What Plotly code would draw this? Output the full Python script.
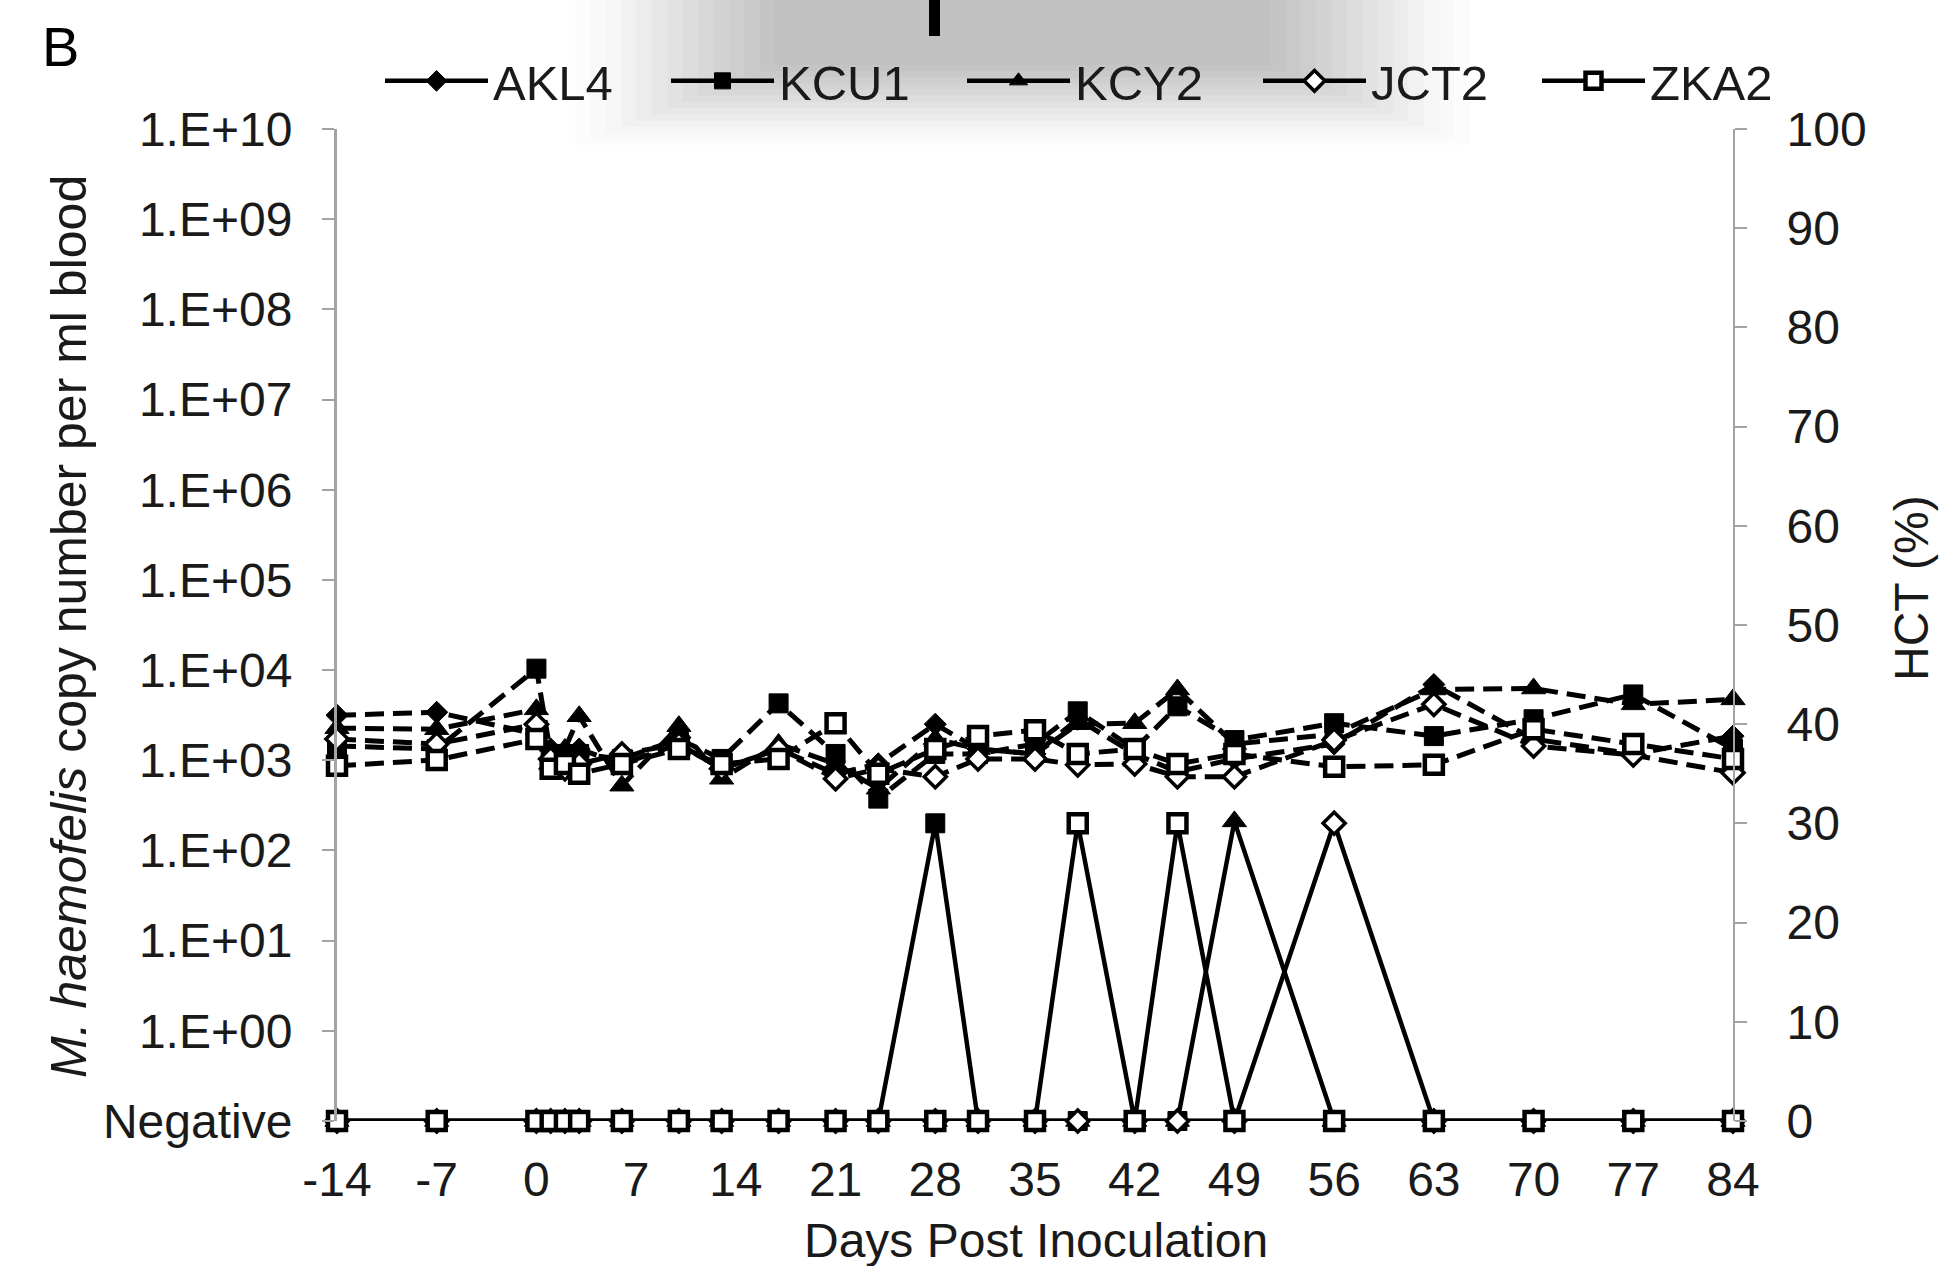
import plotly.graph_objects as go

# ---------------- data ----------------
days = [-14, -7, 0, 1, 2, 3, 6, 10, 13, 17, 21, 24, 28, 31, 35, 38, 42, 45, 49, 56, 63, 70, 77, 84]
x_ticks = [-14, -7, 0, 7, 14, 21, 28, 35, 42, 49, 56, 63, 70, 77, 84]
x_ticktext = ["-14", "-7", "0", "7", "14", "21", "28", "35", "42", "49", "56", "63", "70", "77", "84"]

animals = ["AKL4", "KCU1", "KCY2", "JCT2", "ZKA2"]

# M. haemofelis copy number per ml blood (0 = Negative)
copies_AKL4 = [0, 0, 0, 0, 0, 0, 0, 0, 0, 0, 0, 0, 0, 0, 0, 0, 0, 0, 0, 0, 0, 0, 0, 0]
copies_KCU1 = [0, 0, 0, 0, 0, 0, 0, 0, 0, 0, 0, 0, 200, 0, 0, 0, 0, 0, 0, 0, 0, 0, 0, 0]
copies_KCY2 = [0, 0, 0, 0, 0, 0, 0, 0, 0, 0, 0, 0, 0, 0, 0, 0, 0, 0, 210, 0, 0, 0, 0, 0]
copies_JCT2 = [0, 0, 0, 0, 0, 0, 0, 0, 0, 0, 0, 0, 0, 0, 0, 0, 0, 0, 0, 200, 0, 0, 0, 0]
copies_ZKA2 = [0, 0, 0, 0, 0, 0, 0, 0, 0, 0, 0, 0, 0, 0, 0, 200, 0, 200, 0, 0, 0, 0, 0, 0]

# HCT (%)
hct_AKL4 = [40.9, 41.2, 39.0, 37.5, 37.0, 37.5, 36.0, 38.0, 35.5, 37.5, 35.0, 36.0, 40.0, 37.5, 37.0, 40.5, 37.0, 35.2, 36.5, 38.0, 44.0, 38.5, 37.0, 38.8]
hct_KCU1 = [37.8, 37.5, 45.6, 37.0, 36.5, 37.0, 36.5, 38.5, 36.5, 42.1, 37.0, 32.5, 37.0, 37.0, 38.0, 41.3, 37.5, 41.8, 38.4, 40.1, 38.8, 40.5, 43.0, 37.5]
hct_KCY2 = [39.6, 39.5, 41.5, 36.0, 37.5, 40.8, 33.8, 39.8, 34.5, 38.0, 36.0, 33.5, 38.5, 37.5, 37.0, 40.0, 40.1, 43.5, 38.0, 39.0, 43.5, 43.6, 42.0, 42.5]
hct_JCT2 = [38.5, 38.0, 40.0, 36.5, 35.5, 36.0, 37.0, 38.0, 35.5, 37.5, 34.5, 35.5, 34.7, 36.5, 36.5, 35.9, 36.0, 34.7, 34.7, 38.4, 42.0, 37.8, 36.9, 35.1]
hct_ZKA2 = [35.8, 36.4, 38.5, 35.5, 36.0, 35.0, 36.0, 37.5, 36.0, 36.5, 40.1, 35.0, 37.5, 38.8, 39.4, 37.0, 37.5, 36.0, 37.0, 35.7, 35.9, 39.5, 38.0, 36.5]

left_tickvals = [0.1, 1, 10, 100, 1e3, 1e4, 1e5, 1e6, 1e7, 1e8, 1e9, 1e10]
left_ticktext = ["Negative", "1.E+00", "1.E+01", "1.E+02", "1.E+03", "1.E+04",
                 "1.E+05", "1.E+06", "1.E+07", "1.E+08", "1.E+09", "1.E+10"]
right_tickvals = [0, 10, 20, 30, 40, 50, 60, 70, 80, 90, 100]

NEG_LEVEL = 0.1  # position of "Negative" on the log axis

copies = [copies_AKL4, copies_KCU1, copies_KCY2, copies_JCT2, copies_ZKA2]
hcts = [hct_AKL4, hct_KCU1, hct_KCY2, hct_JCT2, hct_ZKA2]

# ---------------- styles ----------------
FONT = "Liberation Sans, Arial, sans-serif"
TXT = "#1a1a1a"
AX = "#a3a3a3"
markers = [
    dict(symbol="diamond", size=17, color="black", line=dict(color="black", width=1)),
    dict(symbol="square", size=19, color="black", line=dict(color="black", width=1)),
    dict(symbol="triangle-up", size=21, color="black", line=dict(color="black", width=1)),
    dict(symbol="diamond", size=17, color="white", line=dict(color="black", width=3.5)),
    dict(symbol="square", size=18, color="white", line=dict(color="black", width=4.5)),
]

L, R, T, B = 337, 225, 129, 145
W, H = 1958, 1266
pw, ph = W - L - R, H - T - B

def px(xf):
    return (xf - L) / pw

def py(yf):
    return (H - B - yf) / ph

legend_ids = ["legend", "legend2", "legend3", "legend4", "legend5"]
legend_x = [380, 666, 962, 1258, 1537]

fig = go.Figure()

# copy numbers (solid, left log axis) -- these carry the legend
for name, c, mk, lid in zip(animals, copies, markers, legend_ids):
    yv = [v if v > 0 else NEG_LEVEL for v in c]
    fig.add_trace(go.Scatter(
        x=days, y=yv, yaxis="y", mode="lines+markers", name=name,
        showlegend=True, legend=lid, cliponaxis=False,
        line=dict(color="black", width=4.5),
        marker=mk,
    ))

# HCT (dashed, right axis)
for name, h, mk in zip(animals, hcts, markers):
    fig.add_trace(go.Scatter(
        x=days, y=h, yaxis="y2", mode="lines+markers", name=name + " HCT",
        showlegend=False, cliponaxis=False,
        line=dict(color="black", width=5, dash="19px,9px"),
        marker=mk,
    ))

shapes = []
# soft grey blur at the top (scan artefact)
n_layers = 14
for i in range(n_layers):
    f = i / (n_layers - 1)
    x0 = 575 + f * 200
    x1 = 1470 - f * 200
    y1 = 145 - f * 80
    op = 0.010 if i < 3 else 0.019
    shapes.append(dict(type="rect", xref="paper", yref="paper",
                       x0=px(x0), x1=px(x1), y0=py(y1), y1=py(0),
                       fillcolor="black", opacity=op, line=dict(width=0), layer="below"))
shapes.append(dict(type="rect", xref="paper", yref="paper",
                   x0=px(929), x1=px(940), y0=py(36), y1=py(0),
                   fillcolor="black", line=dict(width=0), layer="below"))

legend_common = dict(
    orientation="h", xanchor="left", y=py(81), yanchor="middle",
    bgcolor="rgba(0,0,0,0)", font=dict(size=49, color=TXT),
    itemwidth=103,
)
legends = {lid: dict(legend_common, x=px(lx)) for lid, lx in zip(legend_ids, legend_x)}

fig.update_layout(
    width=W, height=H, autosize=False,
    margin=dict(l=L, r=R, t=T, b=B),
    paper_bgcolor="white", plot_bgcolor="white",
    font=dict(family=FONT, size=48, color=TXT),
    shapes=shapes,
    xaxis=dict(
        range=[-14, 84], tickmode="array", tickvals=x_ticks, ticktext=x_ticktext,
        showline=False, ticks="", showgrid=False, zeroline=False,
        tickfont=dict(size=48, color=TXT), ticklabelstandoff=26,
    ),
    yaxis=dict(
        type="log", range=[-1, 10], tickmode="array",
        tickvals=left_tickvals, ticktext=left_ticktext,
        showline=True, linecolor=AX, linewidth=3,
        ticks="outside", ticklen=12, tickwidth=2, tickcolor=AX,
        showgrid=False, zeroline=False,
        tickfont=dict(size=48, color=TXT), ticklabelstandoff=20,
    ),
    yaxis2=dict(
        overlaying="y", side="right", range=[0, 100], tickmode="array",
        tickvals=right_tickvals,
        showline=True, linecolor=AX, linewidth=2,
        ticks="outside", ticklen=12, tickwidth=2, tickcolor=AX,
        showgrid=False, zeroline=False,
        tickfont=dict(size=48, color=TXT), ticklabelstandoff=30,
    ),
    annotations=[
        dict(text="B", xref="paper", yref="paper", x=px(60), y=py(47),
             xanchor="center", yanchor="middle", showarrow=False,
             font=dict(size=56, color="black", family=FONT)),
        dict(text="<i>M. haemofelis</i> copy number per ml blood", xref="paper", yref="paper",
             x=px(69), y=py(627), xanchor="center", yanchor="middle", textangle=-90,
             showarrow=False, font=dict(size=50, color=TXT)),
        dict(text="HCT (%)", xref="paper", yref="paper",
             x=px(1911), y=py(588), xanchor="center", yanchor="middle", textangle=-90,
             showarrow=False, font=dict(size=48, color=TXT)),
        dict(text="Days Post Inoculation", xref="paper", yref="paper",
             x=px(1036), y=py(1240), xanchor="center", yanchor="middle",
             showarrow=False, font=dict(size=48, color=TXT)),
    ],
    **legends,
)

fig.write_html("out.html")
